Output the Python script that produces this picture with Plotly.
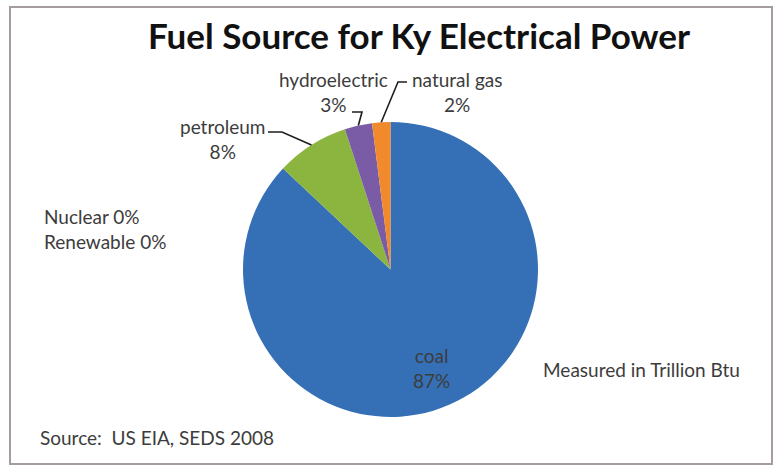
import math
import plotly.graph_objects as go

# Fuel shares for Kentucky electrical power (percent of total, Trillion Btu basis)
fuels = ["coal", "petroleum", "hydroelectric", "natural gas"]
shares = [87, 8, 3, 2]
colors = ["#3570B6", "#8CB540", "#7A5BA6", "#F08A2C"]

zero_sources = ["Nuclear", "Renewable"]
zero_shares = [0, 0]

title_text = "Fuel Source for Ky Electrical Power"
units_note = "Measured in Trillion Btu"
source_note = "Source:  US EIA, SEDS 2008"

W, H = 779, 466
FONT = "Lato, Carlito, Calibri, sans-serif"
TEXT_COLOR = "#3c3c3c"
LABEL_SIZE = 19

# pie placement (pixels)
CX, CY, R = 390.5, 269.5, 147.5


def px(x):
    return x / W


def py(y):
    return 1 - y / H


fig = go.Figure(go.Pie(
    labels=fuels,
    values=shares,
    sort=False,
    direction="clockwise",
    rotation=0,
    marker=dict(colors=colors, line=dict(width=0)),
    textinfo="none",
    hoverinfo="label+percent",
    showlegend=False,
    domain=dict(x=[px(CX - R), px(CX + R)], y=[py(CY + R), py(CY - R)]),
))

total = sum(shares)

# label anchor, elbow point for the leader line (None = label sits on the slice)
label_layout = {
    "coal": dict(pos=(431, 368), line=None),
    "petroleum": dict(pos=(222, 139), line=[(268, 132), (282, 132)]),
    "hydroelectric": dict(pos=(333, 92), line=[(352, 112), (362, 112)]),
    "natural gas": dict(pos=(457, 92), line=[(407, 82), (398, 82)]),
}

annotations = []
shapes = []
cum = 0.0
for name, val in zip(fuels, shares):
    frac = val / total
    mid = (cum + frac / 2) * 2 * math.pi
    cum += frac
    pct = round(frac * 100)
    spec = label_layout[name]
    lx, ly = spec["pos"]
    annotations.append(dict(
        x=px(lx), y=py(ly), xref="paper", yref="paper",
        text=f"{name}<br>{pct}%", showarrow=False,
        font=dict(family=FONT, size=LABEL_SIZE, color=TEXT_COLOR),
        align="center", xanchor="center", yanchor="middle",
    ))
    if spec["line"]:
        ex = CX + R * math.sin(mid)
        ey = CY - R * math.cos(mid)
        pts = spec["line"] + [(ex, ey)]
        path = "M " + " L ".join(f"{px(x):.5f},{py(y):.5f}" for x, y in pts)
        shapes.append(dict(type="path", path=path, xref="paper", yref="paper",
                           line=dict(color="#1e1e1e", width=1.6)))

zero_text = "<br>".join(f"{n} {v}%" for n, v in zip(zero_sources, zero_shares))
annotations.append(dict(
    x=px(42), y=py(229), xref="paper", yref="paper", text=zero_text,
    showarrow=False, align="left", xanchor="left", yanchor="middle",
    font=dict(family=FONT, size=LABEL_SIZE, color=TEXT_COLOR),
))
annotations.append(dict(
    x=px(541), y=py(369), xref="paper", yref="paper", text=units_note,
    showarrow=False, xanchor="left", yanchor="middle",
    font=dict(family=FONT, size=LABEL_SIZE, color=TEXT_COLOR),
))
annotations.append(dict(
    x=px(38), y=py(437), xref="paper", yref="paper", text=source_note,
    showarrow=False, xanchor="left", yanchor="middle",
    font=dict(family=FONT, size=LABEL_SIZE, color=TEXT_COLOR),
))
annotations.append(dict(
    x=px(419), y=py(35), xref="paper", yref="paper", text=f"<b>{title_text}</b>",
    showarrow=False, xanchor="center", yanchor="middle",
    font=dict(family=FONT, size=35, color="#111111"),
))

# chart frame
shapes.append(dict(type="rect", xref="paper", yref="paper",
                   x0=px(10), x1=px(772), y0=py(464), y1=py(7),
                   line=dict(color="#a59d9d", width=2)))

fig.update_layout(
    width=W, height=H,
    margin=dict(l=0, r=0, t=0, b=0),
    paper_bgcolor="white",
    plot_bgcolor="white",
    annotations=annotations,
    shapes=shapes,
)

fig.write_html("out.html")
